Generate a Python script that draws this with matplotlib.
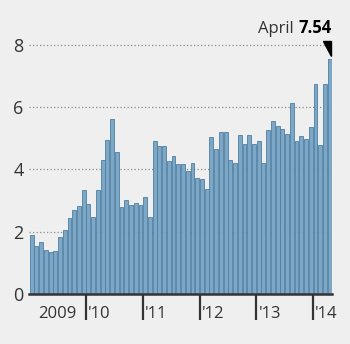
import matplotlib
matplotlib.use("Agg")
import matplotlib.pyplot as plt
import numpy as np

plt.rcParams['font.family'] = ['Open Sans', 'DejaVu Sans']

# monthly values, Jan 2009 .. Apr 2014
v2009 = [1.91, 1.55, 1.67, 1.42, 1.35, 1.40, 1.85, 2.05, 2.46, 2.70, 2.84, 3.33]
v2010 = [2.89, 2.48, 3.33, 4.30, 4.93, 5.62, 4.55, 2.81, 3.02, 2.86, 2.91, 2.86]
v2011 = [3.13, 2.48, 4.90, 4.76, 4.74, 4.28, 4.42, 4.18, 4.16, 3.95, 4.20, 3.72]
v2012 = [3.70, 3.38, 5.03, 4.65, 5.20, 5.20, 4.29, 4.22, 5.12, 4.81, 5.11, 4.82]
v2013 = [4.90, 4.22, 5.25, 5.54, 5.40, 5.29, 5.13, 6.13, 4.90, 5.06, 4.98, 5.35]
v2014 = [6.75, 4.79, 6.75, 7.54]
values = v2009 + v2010 + v2011 + v2012 + v2013 + v2014

year_labels = ["2009", "'10", "'11", "'12", "'13", "'14"]
yticks = [0, 2, 4, 6, 8]
last_label = "April"
last_value = values[-1]

bg = '#efefef'
fig = plt.figure(figsize=(3.5, 3.44), dpi=100, facecolor=bg)
ax = fig.add_axes([0.0837, 0.1445, 0.8649, 0.771], facecolor=bg)

x = np.arange(len(values)) + 0.5
ax.bar(x, values, width=0.82, color='#7da7c4', edgecolor='#4c7fa3',
       linewidth=0.6, zorder=2)

ax.set_xlim(0, len(values))
ax.set_ylim(0, 8.5)

# dotted gridlines
for yv in yticks[1:]:
    ax.axhline(yv, color='#8a8a8a', lw=0.9, ls=(0, (1, 1.8)), zorder=1)

ax.set_yticks(yticks)
ax.set_yticklabels([str(t) for t in yticks], fontsize=13, color='#333333')
ax.tick_params(axis='y', length=0, pad=4)

for s in ['top', 'right', 'left']:
    ax.spines[s].set_visible(False)
ax.spines['bottom'].set_color('#333333')
ax.spines['bottom'].set_linewidth(1.8)
ax.spines['bottom'].set_zorder(3)

# year separators below the axis
ax.set_xticks([12, 24, 36, 48, 60])
ax.set_xticklabels([])
ax.tick_params(axis='x', length=18.4, width=1.6, color='#333333', direction='out')

ax.annotate(year_labels[0], xy=(6, 0), xycoords=('data', 'axes fraction'),
            xytext=(0, -14), textcoords='offset points',
            ha='center', va='center', fontsize=12, color='#333333')
for i, lab in enumerate(year_labels[1:]):
    ax.annotate(lab, xy=(12 * (i + 1), 0), xycoords=('data', 'axes fraction'),
                xytext=(1.5, -14), textcoords='offset points',
                ha='left', va='center', fontsize=12, color='#333333')

# marker and label for the latest month
n = len(values)
tri = plt.Polygon([[n - 2.0, 8.12], [n - 0.15, 8.12], [n - 0.15, 7.64]],
                  closed=True, color='black', zorder=4, clip_on=False)
ax.add_patch(tri)
t_val = ax.text(n - 0.15, 8.37, f"{last_value:.2f}", ha='right', va='baseline',
                fontsize=12, fontweight='bold', color='black')
ax.annotate(last_label + " ", xy=(0, 0), xycoords=t_val, ha='right', va='bottom',
            fontsize=12, color='#333333')

fig.savefig('out.png', dpi=100, facecolor=bg)
